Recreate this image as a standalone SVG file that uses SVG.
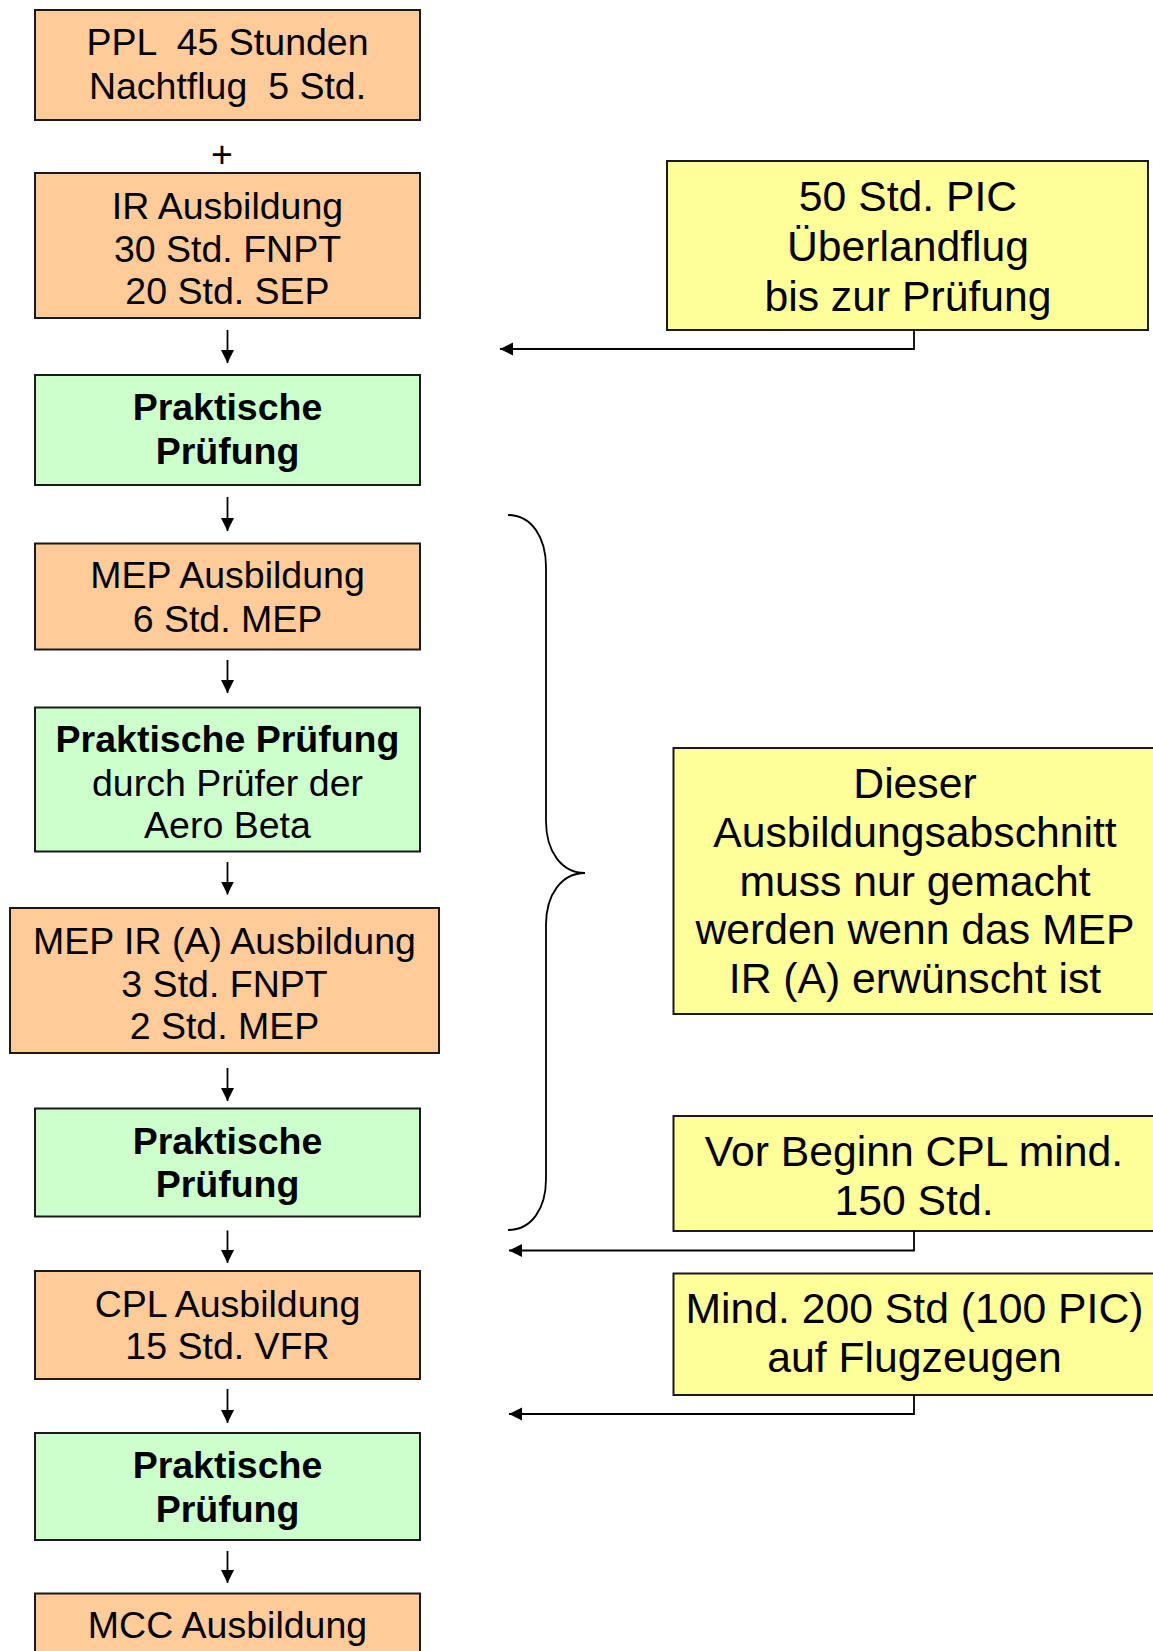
<svg xmlns="http://www.w3.org/2000/svg" width="1153" height="1651" viewBox="0 0 1153 1651">
<style>
.box{stroke:#1a1a1a;stroke-width:2}
.o{fill:#FFCC99}
.g{fill:#CCFFCC}
.y{fill:#FFFF99}
text{font-family:"Liberation Sans",Arial,sans-serif;fill:#000;text-anchor:middle;white-space:pre}
.l{font-size:37.5px}
.b{font-weight:bold}
.r{font-size:42.7px}
.c{fill:none;stroke:#000;stroke-width:1.8}
</style>
<defs>
<marker id="ah" viewBox="0 0 10 10" refX="10" refY="5" markerWidth="13" markerHeight="14" markerUnits="userSpaceOnUse" orient="auto">
<path d="M0,0 L10,5 L0,10 z" fill="#000"/>
</marker>
</defs>
<rect width="1153" height="1651" fill="#fff"/>

<g id="ppl">
<rect class="box o" x="35" y="10" width="385" height="110"/>
<text class="l"><tspan x="227.5" y="55">PPL  45 Stunden</tspan><tspan x="227.5" y="99">Nachtflug  5 Std.</tspan></text>
</g>
<g id="plus"><text class="l" x="222" y="167">+</text></g>
<g id="ir">
<rect class="box o" x="35" y="173" width="385" height="145"/>
<text class="l"><tspan x="227.5" y="219">IR Ausbildung</tspan><tspan x="227.5" y="261.5">30 Std. FNPT</tspan><tspan x="227.5" y="304">20 Std. SEP</tspan></text>
</g>
<g id="pruefung1">
<rect class="box g" x="35" y="375" width="385" height="110"/>
<text class="l b"><tspan x="227.5" y="419.5">Praktische</tspan><tspan x="227.5" y="463.5">Prüfung</tspan></text>
</g>
<g id="mep">
<rect class="box o" x="35" y="543.5" width="385" height="106"/>
<text class="l"><tspan x="227.5" y="588">MEP Ausbildung</tspan><tspan x="227.5" y="631.5">6 Std. MEP</tspan></text>
</g>
<g id="pruefung2">
<rect class="box g" x="35" y="707.5" width="385" height="144"/>
<text class="l"><tspan x="227.5" y="752" font-weight="bold">Praktische Prüfung</tspan><tspan x="227.5" y="795.5">durch Prüfer der</tspan><tspan x="227.5" y="838">Aero Beta</tspan></text>
</g>
<g id="mepir">
<rect class="box o" x="10" y="908" width="429" height="145"/>
<text class="l"><tspan x="224.5" y="954">MEP IR (A) Ausbildung</tspan><tspan x="224.5" y="996.5">3 Std. FNPT</tspan><tspan x="224.5" y="1039">2 Std. MEP</tspan></text>
</g>
<g id="pruefung3">
<rect class="box g" x="35" y="1108.5" width="385" height="108"/>
<text class="l b"><tspan x="227.5" y="1154">Praktische</tspan><tspan x="227.5" y="1197">Prüfung</tspan></text>
</g>
<g id="cpl">
<rect class="box o" x="35" y="1271" width="385" height="108"/>
<text class="l"><tspan x="227.5" y="1316.5">CPL Ausbildung</tspan><tspan x="227.5" y="1359">15 Std. VFR</tspan></text>
</g>
<g id="pruefung4">
<rect class="box g" x="35" y="1433" width="385" height="107"/>
<text class="l b"><tspan x="227.5" y="1478">Praktische</tspan><tspan x="227.5" y="1521.5">Prüfung</tspan></text>
</g>
<g id="mcc">
<rect class="box o" x="35" y="1593.5" width="385" height="100"/>
<text class="l"><tspan x="227.5" y="1638">MCC Ausbildung</tspan></text>
</g>

<g id="note-pic">
<rect class="box y" x="667" y="161" width="481" height="169"/>
<text class="r"><tspan x="908" y="211">50 Std. PIC</tspan><tspan x="908" y="261">Überlandflug</tspan><tspan x="908" y="310.5">bis zur Prüfung</tspan></text>
</g>
<g id="note-mep">
<rect class="box y" x="673.5" y="748" width="490" height="266"/>
<text class="r"><tspan x="915" y="798">Dieser</tspan><tspan x="915" y="846.8">Ausbildungsabschnitt</tspan><tspan x="915" y="895.6">muss nur gemacht</tspan><tspan x="915" y="944.4">werden wenn das MEP</tspan><tspan x="915" y="993.2">IR (A) erwünscht ist</tspan></text>
</g>
<g id="note-150">
<rect class="box y" x="673.5" y="1116" width="485" height="115"/>
<text class="r"><tspan x="914" y="1165.5">Vor Beginn CPL mind.</tspan><tspan x="914" y="1214.5">150 Std.</tspan></text>
</g>
<g id="note-200">
<rect class="box y" x="673.5" y="1273.5" width="485" height="121.5"/>
<text class="r"><tspan x="914.5" y="1323">Mind. 200 Std (100 PIC)</tspan><tspan x="914.5" y="1372">auf Flugzeugen</tspan></text>
</g>

<g id="connectors">
<line class="c" x1="227.5" y1="330" x2="227.5" y2="363" marker-end="url(#ah)"/>
<line class="c" x1="227.5" y1="497" x2="227.5" y2="531" marker-end="url(#ah)"/>
<line class="c" x1="227.5" y1="660" x2="227.5" y2="693" marker-end="url(#ah)"/>
<line class="c" x1="227.5" y1="862" x2="227.5" y2="894.5" marker-end="url(#ah)"/>
<line class="c" x1="227.5" y1="1068" x2="227.5" y2="1101" marker-end="url(#ah)"/>
<line class="c" x1="227.5" y1="1230.5" x2="227.5" y2="1263" marker-end="url(#ah)"/>
<line class="c" x1="227.5" y1="1389" x2="227.5" y2="1423" marker-end="url(#ah)"/>
<line class="c" x1="227.5" y1="1551" x2="227.5" y2="1583" marker-end="url(#ah)"/>
<polyline class="c" points="914,330 914,349 500,349" marker-end="url(#ah)"/>
<polyline class="c" points="914,1231 914,1250.5 509,1250.5" marker-end="url(#ah)"/>
<polyline class="c" points="914,1395 914,1414 509,1414" marker-end="url(#ah)"/>
<path id="brace" class="c" stroke-width="2" d="M508,515 C532,515 546,538 546,567 L546,821 C546,852 562,873 585,873 C562,873 546,894 546,925 L546,1179 C546,1208 532,1230 508,1230"/>
</g>
</svg>
